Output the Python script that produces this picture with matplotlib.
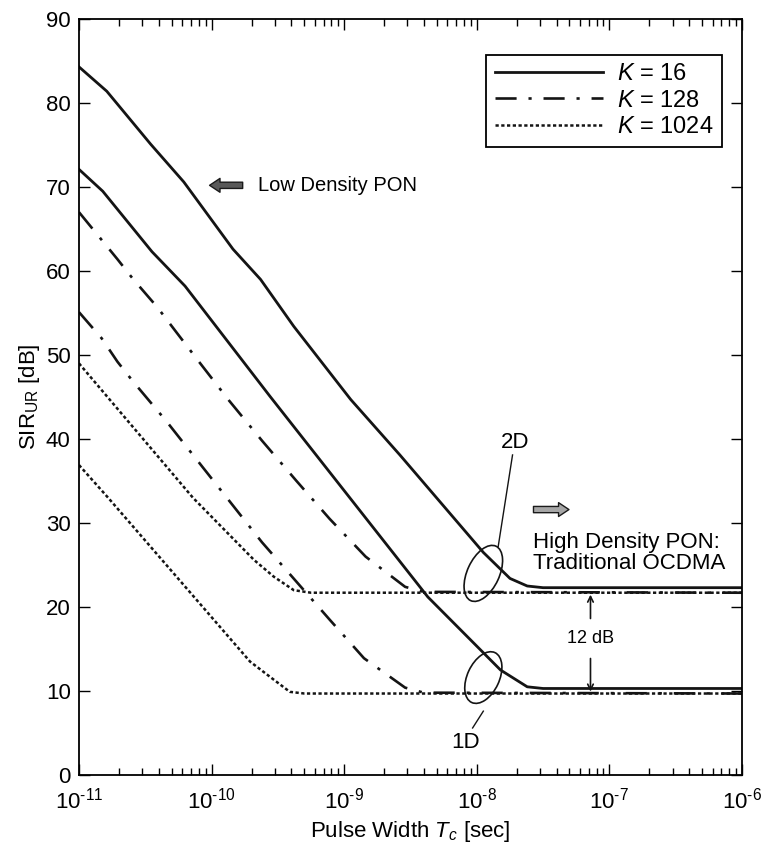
import matplotlib
matplotlib.use("Agg")
import matplotlib.pyplot as plt
from matplotlib.patches import Ellipse
from matplotlib.transforms import ScaledTranslation
from matplotlib.ticker import FixedLocator, NullFormatter, MultipleLocator, FuncFormatter
import numpy as np

plt.rcParams['font.family'] = ['Liberation Sans', 'DejaVu Sans']
plt.rcParams['mathtext.fontset'] = 'custom'
plt.rcParams['mathtext.rm'] = 'Liberation Sans'
plt.rcParams['mathtext.it'] = 'Liberation Sans:italic'
plt.rcParams['mathtext.bf'] = 'Liberation Sans:bold'

# values (pulse width in s, SIR in dB)
tc_16_2d = [1.0e-11, 1.62e-11, 3.47e-11, 6.17e-11, 1.45e-10, 2.34e-10, 4.17e-10,
            1.12e-9, 2.63e-9, 1.12e-8, 1.78e-8, 2.4e-8, 3.16e-8, 1.0e-6]
sir_16_2d = [84.3, 81.4, 75.1, 70.6, 62.6, 59.0, 53.4,
             44.7, 38.1, 26.5, 23.4, 22.5, 22.3, 22.3]

tc_16_1d = [1.0e-11, 1.51e-11, 3.55e-11, 6.31e-11, 2.75e-10, 4.27e-9,
            1.51e-8, 2.4e-8, 3.16e-8, 1.0e-6]
sir_16_1d = [72.1, 69.5, 62.3, 58.2, 45.1, 21.2,
             12.5, 10.5, 10.3, 10.3]

tc_128_2d = [1.0e-11, 1.95e-11, 2.57e-11, 3.89e-11, 5.37e-11, 7.94e-11, 1.35e-10,
             2.40e-10, 4.37e-10, 7.76e-10, 1.45e-9, 2.88e-9, 3.98e-9, 1.0e-6]
sir_128_2d = [67.0, 61.4, 59.0, 55.7, 52.8, 49.3, 44.6,
              39.8, 35.0, 30.5, 26.0, 22.4, 21.8, 21.7]

tc_128_1d = [1.0e-11, 1.48e-11, 1.95e-11, 2.57e-11, 4.57e-11, 7.94e-11,
             2.40e-10, 4.37e-10, 7.76e-10, 1.41e-9, 2.88e-9, 3.98e-9, 1.0e-6]
sir_128_1d = [55.1, 52.0, 49.2, 46.8, 42.1, 37.3,
              27.7, 23.0, 18.5, 13.9, 10.4, 9.8, 9.7]

tc_1024_2d = [1.0e-11, 7.24e-11, 2.09e-10, 2.95e-10, 4.17e-10, 5.62e-10, 1.0e-6]
sir_1024_2d = [49.0, 33.0, 25.6, 23.6, 22.0, 21.7, 21.7]

tc_1024_1d = [1.0e-11, 1.66e-11, 1.95e-10, 2.75e-10, 3.89e-10, 5.01e-10, 1.0e-6]
sir_1024_1d = [36.9, 33.0, 13.5, 11.7, 9.9, 9.7, 9.7]

x_decades = [1e-11, 1e-10, 1e-9, 1e-8, 1e-7, 1e-6]
legend_labels = ['$K$ = 16', '$K$ = 128', '$K$ = 1024']

fig = plt.figure(figsize=(7.66, 8.46), dpi=100)
ax = fig.add_axes([79 / 766, 71 / 846, 663 / 766, 756 / 846])

col = '#141414'
dashdot = (0, (8, 4.5, 1.2, 4.5))
dotted = (0, (1.3, 1.0))

l16, = ax.plot(tc_16_2d, sir_16_2d, color=col, lw=2.0, ls='-')
ax.plot(tc_16_1d, sir_16_1d, color=col, lw=2.0, ls='-')
l128, = ax.plot(tc_128_2d, sir_128_2d, color=col, lw=1.9, ls=dashdot)
ax.plot(tc_128_1d, sir_128_1d, color=col, lw=1.9, ls=dashdot)
l1024, = ax.plot(tc_1024_2d, sir_1024_2d, color=col, lw=1.8, ls=dotted)
ax.plot(tc_1024_1d, sir_1024_1d, color=col, lw=1.8, ls=dotted)


def pow_label(v, pos):
    # short hyphen in the exponent like the original print
    e = int(round(np.log10(v)))
    return '$10^{\u2010%d}$' % (-e) if e < 0 else '$10^{%d}$' % e


minor = [m * d for d in x_decades[:-1] for m in range(2, 10)]

ax.set_xscale('log')
ax.set_xlim(1e-11, 1e-6)
ax.set_ylim(0, 90)
ax.yaxis.set_major_locator(MultipleLocator(10))
ax.xaxis.set_major_locator(FixedLocator(x_decades))
ax.xaxis.set_major_formatter(FuncFormatter(pow_label))
ax.xaxis.set_minor_locator(FixedLocator(minor))
ax.xaxis.set_minor_formatter(NullFormatter())
ax.tick_params(which='both', direction='in', top=True, right=True, width=1.0)
ax.tick_params(which='major', length=8)
ax.tick_params(which='minor', length=5)
ax.tick_params(axis='x', labelsize=16, pad=9)
ax.tick_params(axis='y', labelsize=16, pad=6)
for s in ax.spines.values():
    s.set_linewidth(1.3)

ax.set_xlabel('Pulse Width $T_c$ [sec]', fontsize=16, labelpad=4)
ax.set_ylabel('SIR$_\\mathregular{UR}$ [dB]', fontsize=16, labelpad=3)

leg = ax.legend([l16, l128, l1024], legend_labels, loc='upper right',
                bbox_to_anchor=(0.97, 0.953), fontsize=17, handlelength=4.6,
                handletextpad=0.6, labelspacing=0.2, borderpad=0.35,
                borderaxespad=0.0, fancybox=False, framealpha=1,
                edgecolor='black')
leg.get_frame().set_linewidth(1.3)

# annotations
arr_kw = dict(arrowstyle='simple,head_width=1.0,head_length=0.75,tail_width=0.45',
              fc='0.35', ec='0.1', lw=1.0)
ax.annotate('', xy=(9.2e-11, 70.2), xytext=(1.8e-10, 70.2), arrowprops=arr_kw)
ax.text(2.24e-10, 70.2, 'Low Density PON', fontsize=14.5, va='center', ha='left')

arr_kw2 = dict(arr_kw, fc='0.65')
ax.annotate('', xy=(5.2e-8, 31.6), xytext=(2.55e-8, 31.6), arrowprops=arr_kw2)
ax.text(2.65e-8, 26.4, 'High Density PON:\nTraditional OCDMA', fontsize=16,
        va='center', ha='left', linespacing=1.0)

# 12 dB gap
x12 = 7.2e-8
ax.text(x12, 16.3, '12 dB', fontsize=13, ha='center', va='center')
ax.annotate('', xy=(x12, 21.8), xytext=(x12, 18.3),
            arrowprops=dict(arrowstyle='->', lw=1.2, color=col))
ax.annotate('', xy=(x12, 9.6), xytext=(x12, 14.2),
            arrowprops=dict(arrowstyle='->', lw=1.2, color=col))

# ellipses and labels
def ellipse_at(x, y, w, h, ang):
    tr = fig.dpi_scale_trans + ScaledTranslation(x, y, ax.transData)
    ax.add_patch(Ellipse((0, 0), w, h, angle=ang, transform=tr,
                         fill=False, ec=col, lw=1.2))

ellipse_at(1.12e-8, 24.0, 0.32, 0.60, -25)
ax.plot([1.45e-8, 1.86e-8], [27.2, 38.1], color=col, lw=1.0)
ax.text(1.95e-8, 39.6, '2D', fontsize=16, ha='center', va='center')

ellipse_at(1.12e-8, 11.6, 0.32, 0.55, -25)
ax.plot([1.12e-8, 0.93e-8], [7.6, 5.6], color=col, lw=1.0)
ax.text(0.82e-8, 3.9, '1D', fontsize=16, ha='center', va='center')

fig.savefig('out.png', dpi=100)
